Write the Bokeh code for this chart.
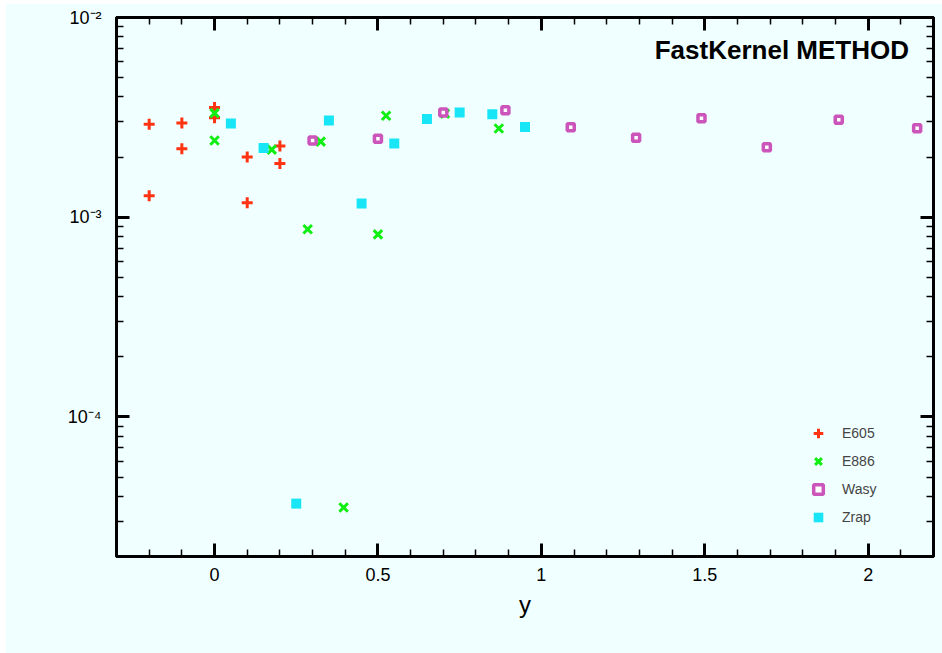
from bokeh.plotting import figure
from bokeh.models import Range1d, FixedTicker, LinearAxis, LogAxis, Label, Legend, LegendItem
from bokeh.embed import file_html
from bokeh.resources import INLINE

# ---- data ----
e605_x = [-0.2, -0.2, -0.1, -0.1, 0.0, 0.0, 0.1, 0.1, 0.2, 0.2]
e605_v = [2.92e-3, 1.28e-3, 2.96e-3, 2.20e-3, 3.54e-3, 3.15e-3, 2.00e-3, 1.18e-3, 2.27e-3, 1.86e-3]

e886_x = [0.0, 0.0, 0.175, 0.285, 0.325, 0.395, 0.5, 0.525, 0.705, 0.87]
e886_v = [3.32e-3, 2.42e-3, 2.18e-3, 8.7e-4, 2.39e-3, 3.52e-5, 8.2e-4, 3.22e-3, 3.30e-3, 2.78e-3]

wasy_x = [0.3, 0.5, 0.7, 0.89, 1.09, 1.29, 1.49, 1.69, 1.91, 2.15]
wasy_v = [2.42e-3, 2.47e-3, 3.34e-3, 3.43e-3, 2.82e-3, 2.50e-3, 3.13e-3, 2.24e-3, 3.08e-3, 2.79e-3]

zrap_x = [0.05, 0.15, 0.25, 0.35, 0.45, 0.55, 0.65, 0.75, 0.85, 0.95]
zrap_v = [2.95e-3, 2.22e-3, 3.68e-5, 3.05e-3, 1.17e-3, 2.34e-3, 3.10e-3, 3.34e-3, 3.28e-3, 2.83e-3]

x_ticks = [0, 0.5, 1, 1.5, 2]
x_tick_labels = ["0", "0.5", "1", "1.5", "2"]
x_minor = [-0.2, -0.1, 0.1, 0.2, 0.3, 0.4, 0.6, 0.7, 0.8, 0.9, 1.1, 1.2, 1.3, 1.4,
           1.6, 1.7, 1.8, 1.9, 2.1]
y_ticks = [1e-4, 1e-3, 1e-2]
y_tick_labels = ["10\u207b\u2074", "10\u207b\u00b3", "10\u207b\u00b2"]
y_minor = [m * d for d in (1e-5, 1e-4, 1e-3) for m in range(2, 10)]

title_text = "FastKernel METHOD"
x_label = "y"

BG = "#f0ffff"
FONT = "Liberation Sans"

p = figure(width=937, height=650, output_backend="svg", toolbar_location=None,
           x_range=Range1d(-0.3, 2.2), y_range=Range1d(2e-5, 1e-2),
           y_axis_type="log", min_border_left=111, min_border_right=9,
           min_border_top=14, min_border_bottom=97,
           background_fill_color=BG, border_fill_color=BG)
p.margin = (3, 0, 0, 5)
p.grid.visible = False
p.outline_line_color = "black"
p.outline_line_width = 3

bottom_ax = p.below[0]
left_ax = p.left[0]

xt = FixedTicker(ticks=x_ticks, minor_ticks=x_minor)
yt = FixedTicker(ticks=y_ticks, minor_ticks=y_minor)

top_ax = LinearAxis(ticker=xt)
right_ax = LogAxis(ticker=yt)
p.add_layout(top_ax, "above")
p.add_layout(right_ax, "right")
bottom_ax.ticker = xt
left_ax.ticker = yt

for ax in [bottom_ax, left_ax, top_ax, right_ax]:
    ax.axis_line_width = 3
    ax.axis_line_color = "black"
    ax.major_tick_in = 13
    ax.major_tick_out = 0
    ax.minor_tick_in = 7
    ax.minor_tick_out = 0
    ax.major_tick_line_width = 3
    ax.minor_tick_line_width = 1.5
    ax.major_tick_line_color = "black"
    ax.minor_tick_line_color = "black"
    ax.major_label_text_font = FONT
    ax.major_label_text_color = "black"

for ax in [top_ax, right_ax]:
    ax.major_label_text_font_size = "1px"
    ax.major_label_text_alpha = 0
    ax.major_label_standoff = 0

bottom_ax.major_label_overrides = {t: l for t, l in zip(x_ticks, x_tick_labels)}
bottom_ax.major_label_text_font_size = "18px"
bottom_ax.major_label_standoff = 11
bottom_ax.axis_label = x_label
bottom_ax.axis_label_text_font = FONT
bottom_ax.axis_label_text_font_style = "normal"
bottom_ax.axis_label_text_font_size = "24px"
bottom_ax.axis_label_text_color = "black"
bottom_ax.axis_label_standoff = 7

left_ax.major_label_overrides = {t: l for t, l in zip(y_ticks, y_tick_labels)}
left_ax.major_label_text_font_size = "18px"
left_ax.major_label_standoff = 15

r1 = p.scatter(e605_x, e605_v, marker="cross", size=11, line_color="#ff3311", line_width=3)
r2 = p.scatter(e886_x, e886_v, marker="x", size=12, line_color="#11ee11", line_width=3)
r3 = p.scatter(wasy_x, wasy_v, marker="square", size=7, line_color="#cc55bb",
               fill_color="white", line_width=3.5)
r4 = p.scatter(zrap_x, zrap_v, marker="square", size=10, fill_color="#18e6f6", line_color=None)

legend = Legend(items=[LegendItem(label="E605", renderers=[r1]),
                       LegendItem(label="E886", renderers=[r2]),
                       LegendItem(label="Wasy", renderers=[r3]),
                       LegendItem(label="Zrap", renderers=[r4])],
                location=(690, 27), glyph_width=24, glyph_height=24, spacing=4,
                label_standoff=12, padding=0, margin=0,
                background_fill_alpha=0, border_line_color=None,
                label_text_font=FONT, label_text_font_size="14px")
p.add_layout(legend)

p.add_layout(Label(x=2.125, y=6.84e-3, text=title_text, text_align="right",
                   text_baseline="middle", text_font=FONT, text_font_style="bold",
                   text_font_size="26px", text_color="black"))

open("out.html", "w").write(file_html(p, INLINE))
